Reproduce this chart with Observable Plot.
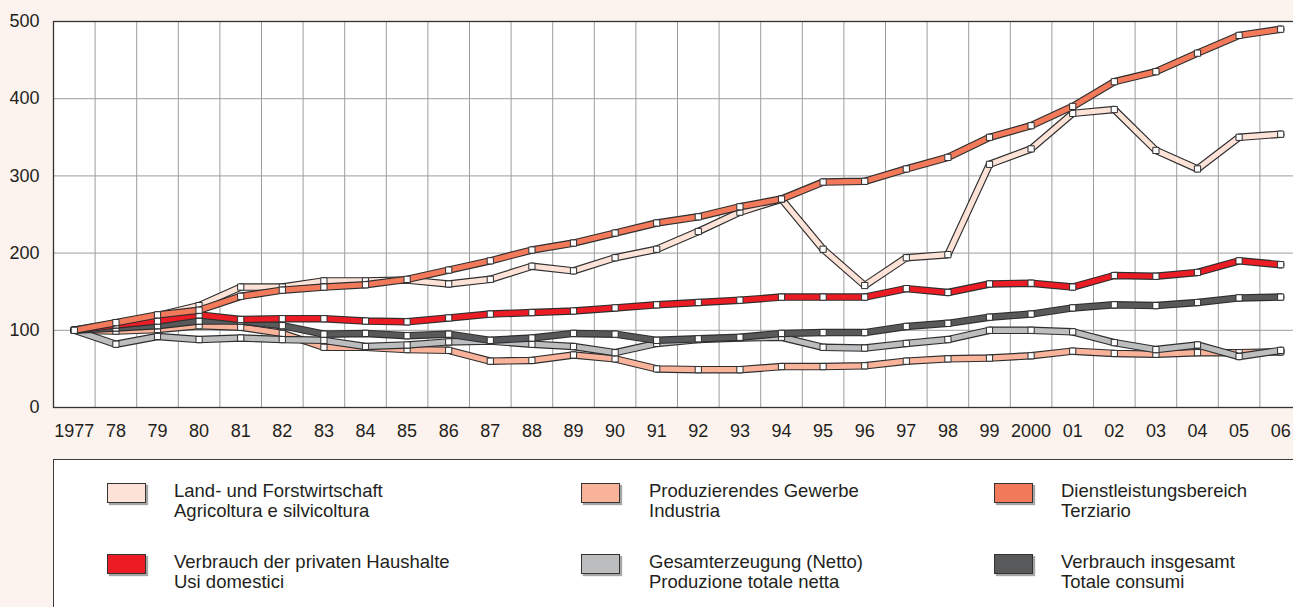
<!DOCTYPE html>
<html>
<head>
<meta charset="utf-8">
<script src="https://cdn.jsdelivr.net/npm/d3@7"></script>
<script src="https://cdn.jsdelivr.net/npm/@observablehq/plot@0.6"></script>
<style>
  html, body { margin: 0; padding: 0; background: #fdf3ee; overflow: hidden; }
  #wrap { position: relative; width: 1293px; height: 607px; overflow: hidden; font-family: "Liberation Sans", Arial, sans-serif; }
  #chart { position: absolute; left: 0; top: 0; }
  #legend { position: absolute; left: 53px; top: 459px; width: 1300px; height: 200px; background: #fff; border: 1px solid #3a3a3a; }
  .sw { position: absolute; width: 37px; height: 18px; border: 1px solid #333; box-shadow: 2px 2px 1px rgba(0,0,0,0.35); }
  .lt { position: absolute; font-size: 18.5px; line-height: 20px; color: #231f20; white-space: nowrap; }
</style>
</head>
<body>
<div id="wrap">
  <div id="chart"></div>
  <div id="legend"></div>
</div>
<script>
// ---- data ----
const years = d3.range(1977, 2007);
const yearLabels = ["1977","78","79","80","81","82","83","84","85","86","87","88","89","90","91","92","93","94","95","96","97","98","99","2000","01","02","03","04","05","06"];
const yTicks = [0, 100, 200, 300, 400, 500];

const landForst   = [100,109,119,132,156,156,164,164,165,160,166,183,177,194,205,228,253,270,205,158,194,198,315,335,381,386,333,309,350,354];
const produzier   = [100,99,101,106,104,96,78,78,75,74,60,61,68,63,50,49,49,53,53,54,60,63,64,67,73,70,69,71,71,72];
const dienst      = [100,110,120,126,144,152,156,159,166,178,190,204,213,226,239,247,260,270,292,293,309,324,350,365,390,422,435,459,482,490];
const privatHH    = [100,107,112,120,114,115,115,112,111,116,121,123,125,129,133,136,139,143,143,143,154,149,160,161,156,171,170,175,190,185];
const gesamtErz   = [100,82,92,88,90,88,87,79,81,85,86,82,79,71,83,88,90,91,78,77,83,88,100,100,98,84,75,81,66,74];
const verbrauchGes= [100,103,106,112,112,106,95,96,93,95,87,90,96,95,87,89,91,96,97,97,105,109,117,121,129,133,132,136,142,143];

const seriesNamesDe = ["Land- und Forstwirtschaft","Produzierendes Gewerbe","Dienstleistungsbereich","Verbrauch der privaten Haushalte","Gesamterzeugung (Netto)","Verbrauch insgesamt"];
const seriesNamesIt = ["Agricoltura e silvicoltura","Industria","Terziario","Usi domestici","Produzione totale netta","Totale consumi"];
const seriesColors  = ["#fde2d8","#f9b39a","#f27a5a","#ec1c24","#bbbdbf","#58595b"];
const seriesValues  = [landForst, produzier, dienst, privatHH, gesamtErz, verbrauchGes];
// drawing order (bottom to top)
const drawOrder = [0, 1, 4, 5, 3, 2];

// ---- chart ----
const boundaries = years.slice(0, -1).map(y => y + 0.5);
const marks = [
  Plot.frame({fill: "white"}),
  Plot.ruleX(boundaries, {stroke: "#9d9d9d", strokeWidth: 1}),
  Plot.ruleY(yTicks.slice(1, -1), {stroke: "#9d9d9d", strokeWidth: 1}),
  Plot.frame({stroke: "#333", strokeWidth: 1.3}),
  Plot.axisX(years, {tickSize: 0, tickPadding: 17, tickFormat: (d) => yearLabels[years.indexOf(d)], fontSize: 18, fill: "#231f20"}),
  Plot.axisY(yTicks, {tickSize: 0, tickPadding: 14, fontSize: 18, fill: "#231f20"})
];
for (const s of drawOrder) {
  const data = years.map((y, i) => ({year: y, value: seriesValues[s][i]}));
  marks.push(Plot.line(data, {x: "year", y: "value", stroke: "#2e2e2e", strokeWidth: 7.5, strokeLinejoin: "miter"}));
  marks.push(Plot.line(data, {x: "year", y: "value", stroke: seriesColors[s], strokeWidth: 5.2, strokeLinejoin: "miter"}));
  marks.push(Plot.dot(data, {x: "year", y: "value", symbol: "square", r: 3.5, fill: "white", stroke: "#2e2e2e", strokeWidth: 1}));
}

const chart = Plot.plot({
  width: 1293,
  height: 450,
  marginLeft: 53,
  marginRight: -8,
  marginTop: 21,
  marginBottom: 43,
  style: {background: "transparent", fontFamily: "'Liberation Sans', Arial, sans-serif", fontSize: "18px", overflow: "hidden"},
  x: {type: "linear", domain: [1976.5, 2006.5], label: null},
  y: {domain: [0, 500], label: null},
  marks
});
document.getElementById("chart").appendChild(chart);

// ---- legend ----
const legend = document.getElementById("legend");
const colSwatch = [53, 527, 940];
const colText = [120, 595, 1007];
const rowSwatch = [22.5, 94.3];
const rowText = [20.5, 92];
const legendOrder = [0, 1, 2, 3, 4, 5];
legendOrder.forEach((s, k) => {
  const col = k % 3, row = Math.floor(k / 3);
  const sw = document.createElement("div");
  sw.className = "sw";
  sw.style.left = colSwatch[col] + "px";
  sw.style.top = rowSwatch[row] + "px";
  sw.style.background = seriesColors[s];
  legend.appendChild(sw);
  const t = document.createElement("div");
  t.className = "lt";
  t.style.left = colText[col] + "px";
  t.style.top = rowText[row] + "px";
  t.innerHTML = seriesNamesDe[s] + "<br>" + seriesNamesIt[s];
  legend.appendChild(t);
});
</script>
</body>
</html>
